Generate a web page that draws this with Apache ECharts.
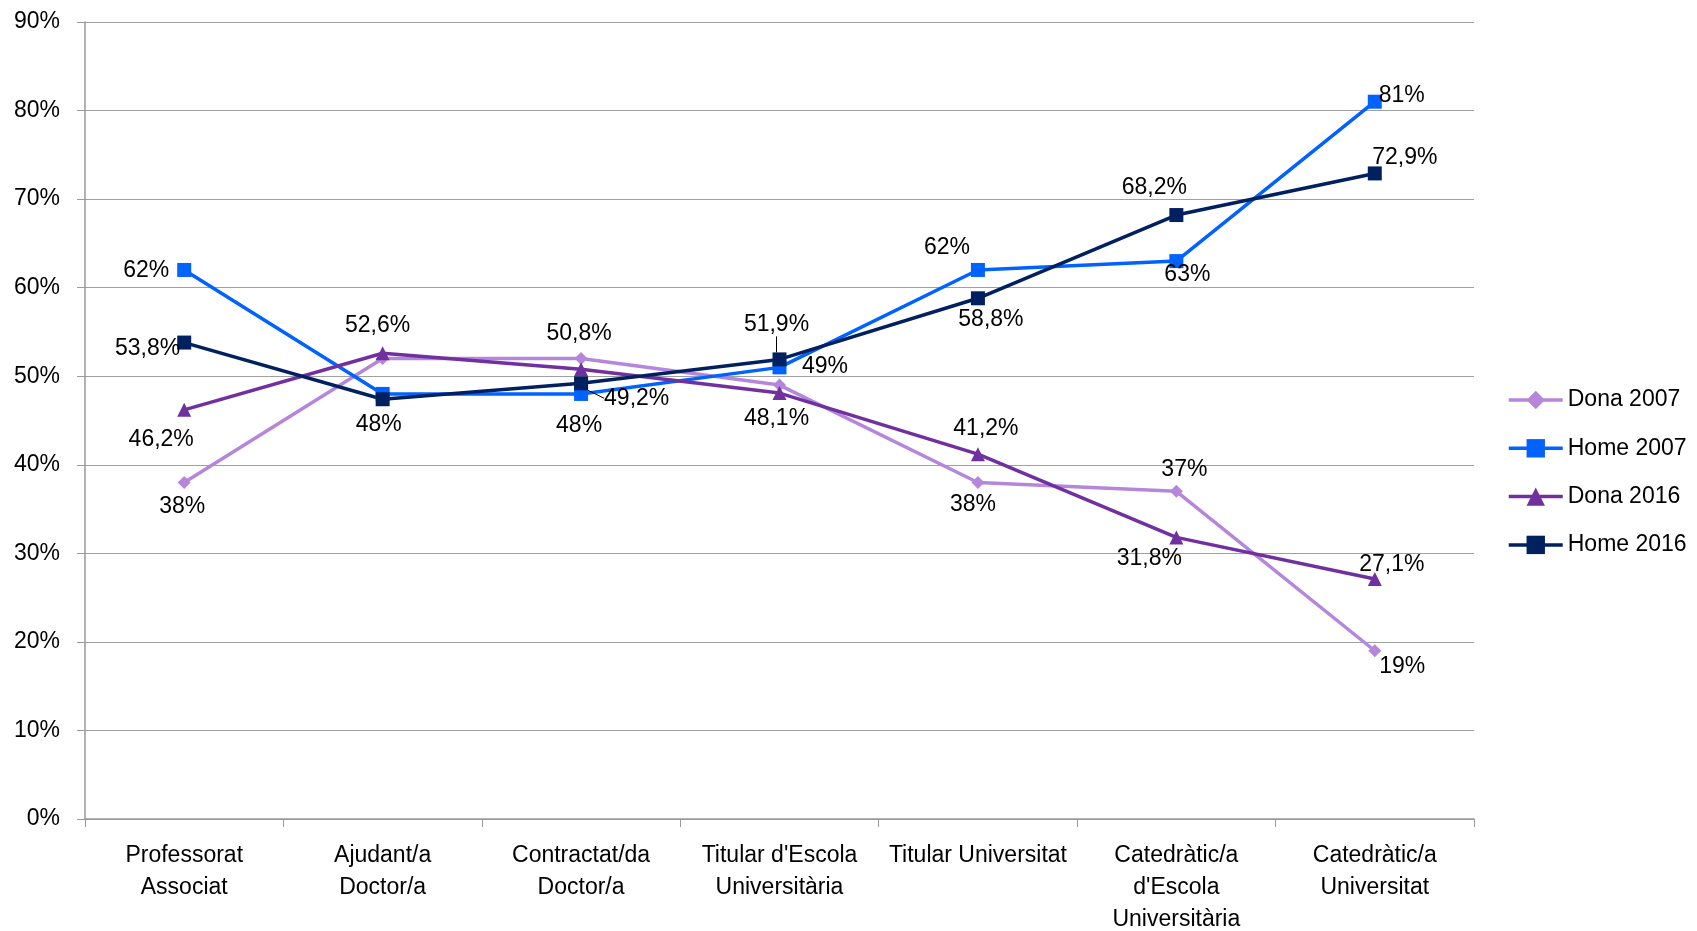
<!DOCTYPE html>
<html>
<head>
<meta charset="utf-8">
<script src="https://cdn.jsdelivr.net/npm/echarts@6/dist/echarts.min.js"></script>
<style>html,body{margin:0;padding:0;background:#fff}#c{width:1697px;height:931px}</style>
</head>
<body>
<div id="c"></div>
<script>
const categories = ["Professorat\nAssociat", "Ajudant/a\nDoctor/a", "Contractat/da\nDoctor/a", "Titular d'Escola\nUniversitària", "Titular Universitat", "Catedràtic/a\nd'Escola\nUniversitària", "Catedràtic/a\nUniversitat"];
const dona2007 = [38, 52, 52, 49, 38, 37, 19];
const home2007 = [62, 48, 48, 51, 62, 63, 81];
const dona2016 = [46.2, 52.6, 50.8, 48.1, 41.2, 31.8, 27.1];
const home2016 = [53.8, 47.4, 49.2, 51.9, 58.8, 68.2, 72.9];
const yTicks = [0, 10, 20, 30, 40, 50, 60, 70, 80, 90];

// label placement: [position, dx, dy, leaderLine] or null (hidden)
const dona2007Lbl = [['bottom',-2,1], null, null, ['right',11,-18], ['bottom',-5,-1], ['top',8,1], ['right',-7,16]];
const home2007Lbl = [['left',-3,1], ['bottom',-4,7], ['bottom',-2,8], null, ['top',-31,1], ['bottom',11,-10], ['right',-8,-6]];
const dona2016Lbl = [['bottom',-23,6], ['top',-5,-4], ['top',-2,-12], ['bottom',-3,2], ['top',8,-2], ['bottom',-27,-2], ['top',17,9]];
const home2016Lbl = [['left',8,6], null, ['right',11,15,true], ['top',-3,-11,true], ['bottom',13,-2], ['top',-22,-4], ['top',30,8]];

const FONT = '"Liberation Sans", Arial, sans-serif';
const FS = 23;
const fmt = v => String(v).replace('.', ',') + '%';

function mkData(vals, lbls) {
  return vals.map((v, i) => {
    const l = lbls[i];
    if (!l) return { value: v, label: { show: false } };
    return { value: v, label: { show: true, position: l[0] }, labelLine: { show: !!l[3] } };
  });
}

function mkSeries(name, vals, lbls, color, symbol, size) {
  return {
    name, type: 'line', data: mkData(vals, lbls),
    symbol, symbolSize: size,
    lineStyle: { color, width: 3.5 },
    itemStyle: { color },
    label: { show: true, formatter: p => fmt(p.value), fontFamily: FONT, fontSize: FS, color: '#000' },
    labelLine: { show: false, lineStyle: { color: '#000', width: 1 } },
    labelLayout: p => { const l = lbls[p.dataIndex]; return l ? { dx: l[1], dy: l[2] } : {}; },
    emphasis: { disabled: true }
  };
}

const chart = echarts.init(document.getElementById('c'));
chart.setOption({
  animation: false,
  backgroundColor: '#fff',
  grid: { left: 85, right: 223, top: 22, bottom: 112, containLabel: false, outerBoundsMode: 'none' },
  legend: {
    orient: 'vertical', left: 1507, top: 387, padding: 0,
    itemWidth: 54, itemHeight: 23, itemGap: 22.3,
    lineStyle: { width: 3.5 },
    textStyle: { fontFamily: FONT, fontSize: FS, color: '#000', lineHeight: 26 },
    data: ['Dona 2007', 'Home 2007', 'Dona 2016', 'Home 2016']
  },
  xAxis: {
    type: 'category', data: categories, boundaryGap: true,
    axisLine: { lineStyle: { color: '#999', width: 1.5 } },
    axisTick: { show: true, alignWithLabel: false, length: 8, lineStyle: { color: '#999' } },
    axisLabel: { interval: 0, fontFamily: FONT, fontSize: FS, color: '#000', lineHeight: 32, margin: 21 }
  },
  yAxis: {
    type: 'value', min: yTicks[0], max: yTicks[yTicks.length - 1], interval: 10,
    axisLine: { show: true, lineStyle: { color: '#999', width: 1.5 } },
    axisTick: { show: true, length: 8, lineStyle: { color: '#999' } },
    axisLabel: { formatter: '{value}%', fontFamily: FONT, fontSize: FS, color: '#000', margin: 25 },
    splitLine: { lineStyle: { color: '#a0a0a0', width: 1.2 } }
  },
  series: [
    mkSeries('Dona 2007', dona2007, dona2007Lbl, '#B487DC', 'diamond', 13),
    mkSeries('Home 2007', home2007, home2007Lbl, '#0062FF', 'rect', 14),
    mkSeries('Dona 2016', dona2016, dona2016Lbl, '#7030A0', 'triangle', 14),
    mkSeries('Home 2016', home2016, home2016Lbl, '#002060', 'rect', 14)
  ]
});
</script>
</body>
</html>
